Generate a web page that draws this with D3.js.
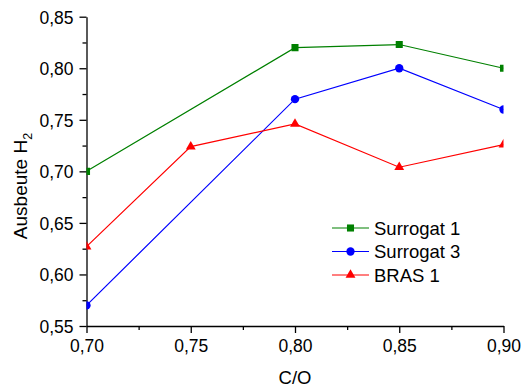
<!DOCTYPE html>
<html>
<head>
<meta charset="utf-8">
<script src="https://cdn.jsdelivr.net/npm/d3@7"></script>
<style>
  body { margin: 0; background: #fff; }
  svg text { font-family: "Liberation Sans", Arial, sans-serif; fill: #000; }
</style>
</head>
<body>
<div id="chart"></div>
<script>
const ratioS1 = [0.70, 0.80, 0.85, 0.90];
const surrogat1 = [0.700, 0.820, 0.823, 0.800];
const ratioS3 = [0.70, 0.80, 0.85, 0.90];
const surrogat3 = [0.570, 0.770, 0.800, 0.760];
const ratioBras = [0.70, 0.75, 0.80, 0.85, 0.90];
const bras1 = [0.627, 0.724, 0.746, 0.704, 0.726];
const xTicks = [0.70, 0.75, 0.80, 0.85, 0.90];
const yTicks = [0.55, 0.60, 0.65, 0.70, 0.75, 0.80, 0.85];

const w = 522;
const h = 389;
const fmt = (d) => d.toFixed(2).replace(".", ",");

const xScale = d3.scaleLinear().domain([0.70, 0.90]).range([86.5, 503.5]);
const yScale = d3.scaleLinear().domain([0.55, 0.85]).range([326, 16.7]);

const svg = d3
  .select("#chart")
  .append("svg")
  .attr("width", w)
  .attr("height", h);

svg
  .append("clipPath")
  .attr("id", "plot-clip")
  .append("rect")
  .attr("x", xScale(0.70))
  .attr("y", yScale(0.85) - 10)
  .attr("width", xScale(0.90) - xScale(0.70))
  .attr("height", yScale(0.55) - yScale(0.85) + 10);

// axes
const xAxis = svg
  .append("g")
  .attr("transform", `translate(0,${yScale(0.55)})`)
  .call(d3.axisBottom(xScale).tickValues(xTicks).tickFormat(fmt).tickSize(7).tickSizeOuter(0));
const xMinor = svg
  .append("g")
  .attr("transform", `translate(0,${yScale(0.55)})`)
  .call(d3.axisBottom(xScale).tickValues([0.725, 0.775, 0.825, 0.875]).tickFormat("").tickSize(4).tickSizeOuter(0));
xMinor.select(".domain").remove();

const yAxis = svg
  .append("g")
  .attr("transform", `translate(${xScale(0.70)},0)`)
  .call(d3.axisLeft(yScale).tickValues(yTicks).tickFormat(fmt).tickSize(7).tickSizeOuter(0));
const yMinor = svg
  .append("g")
  .attr("transform", `translate(${xScale(0.70)},0)`)
  .call(d3.axisLeft(yScale).tickValues([0.575, 0.625, 0.675, 0.725, 0.775, 0.825]).tickFormat("").tickSize(4).tickSizeOuter(0));
yMinor.select(".domain").remove();

svg.selectAll(".domain, .tick line").attr("stroke", "#000").attr("stroke-width", 1.3);
xAxis.selectAll("text").attr("font-size", 17.5).attr("dy", 0).attr("y", 26);
yAxis.selectAll("text").attr("font-size", 17.5).attr("x", -13).attr("dy", "0.36em");
svg.selectAll(".tick text").attr("fill", "#000");

// axis titles
svg
  .append("text")
  .attr("x", (xScale(0.70) + xScale(0.90)) / 2)
  .attr("y", 384)
  .attr("text-anchor", "middle")
  .attr("font-size", 18.5)
  .text("C/O");

const yTitle = svg
  .append("text")
  .attr("transform", `translate(27,186) rotate(-90)`)
  .attr("text-anchor", "middle")
  .attr("font-size", 19);
yTitle.append("tspan").text("Ausbeute H");
yTitle.append("tspan").attr("font-size", 12.5).attr("dy", 5).text("2");

// series
const series = [
  { name: "Surrogat 1", xs: ratioS1, ys: surrogat1, color: "#008000", shape: d3.symbolSquare, size: 50 },
  { name: "Surrogat 3", xs: ratioS3, ys: surrogat3, color: "#0000ff", shape: d3.symbolCircle, size: 54 },
  { name: "BRAS 1", xs: ratioBras, ys: bras1, color: "#ff0000", shape: d3.symbolTriangle, size: 42 },
];

const plot = svg.append("g").attr("clip-path", "url(#plot-clip)");
const line = d3.line().x((d) => xScale(d[0])).y((d) => yScale(d[1]));

series.forEach((s) => {
  const pts = s.xs.map((x, i) => [x, s.ys[i]]);
  plot
    .append("path")
    .datum(pts)
    .attr("d", line)
    .attr("fill", "none")
    .attr("stroke", s.color)
    .attr("stroke-width", 1.2);
  plot
    .selectAll(null)
    .data(pts)
    .enter()
    .append("path")
    .attr("d", d3.symbol().type(s.shape).size(s.size))
    .attr("transform", (d) => `translate(${xScale(d[0])},${yScale(d[1])})`)
    .attr("fill", s.color);
});

// legend
const legend = svg.append("g").attr("transform", "translate(332,228)");
series.forEach((s, i) => {
  const row = legend.append("g").attr("transform", `translate(0,${i * 23.5})`);
  row.append("line").attr("x1", 0).attr("x2", 37).attr("y1", 0).attr("y2", 0).attr("stroke", s.color).attr("stroke-width", 1.2);
  row.append("path").attr("d", d3.symbol().type(s.shape).size(s.size)).attr("transform", "translate(18.5,0)").attr("fill", s.color);
  row.append("text").attr("x", 42).attr("dy", "0.36em").attr("font-size", 18.5).text(s.name);
});
</script>
</body>
</html>
